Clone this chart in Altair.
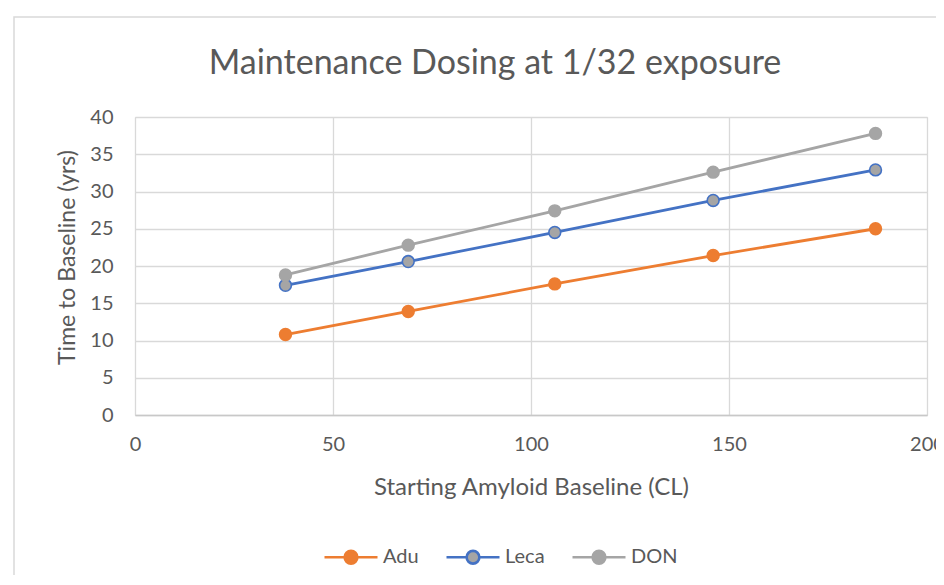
import altair as alt
import pandas as pd

series = ["Adu", "Leca", "DON"]
baseline_cl = [38, 69, 106, 146, 187]
adu = [10.8, 13.9, 17.6, 21.4, 25.0]
leca = [17.4, 20.6, 24.5, 28.8, 32.9]
don = [18.8, 22.8, 27.4, 32.6, 37.8]
x_ticks = [0, 50, 100, 150, 200]
y_ticks = [0, 5, 10, 15, 20, 25, 30, 35, 40]

line_colors = ["#ED7D31", "#4472C4", "#A5A5A5"]
marker_fills = ["#ED7D31", "#A5A5A5", "#A5A5A5"]

rows = []
for name, vals in zip(series, [adu, leca, don]):
    for xv, yv in zip(baseline_cl, vals):
        rows.append({"Series": name, "CL": xv, "Years": yv})
df = pd.DataFrame(rows)

FONT = "Lato"
TXT = "#595959"
GRID = "#D9D9D9"

x_enc = alt.X("CL:Q",
              scale=alt.Scale(domain=[0, 200], nice=False),
              axis=alt.Axis(values=x_ticks, title="Starting Amyloid Baseline (CL)",
                            grid=True, gridColor=GRID, gridWidth=1.3, ticks=False,
                            domain=True, domainColor="#C8C8C8", domainWidth=1.6,
                            labelPadding=19, labelFontSize=20, labelColor=TXT, labelFont=FONT,
                            labelFlush=False, labelOverlap=False,
                            titleFontSize=24, titleColor=TXT, titleFont=FONT, titleFontWeight="normal",
                            titleY=72, titleBaseline="middle"))
y_enc = alt.Y("Years:Q",
              scale=alt.Scale(domain=[0, 40], nice=False),
              axis=alt.Axis(values=y_ticks, title="Time to Baseline (yrs)",
                            grid=True, gridColor=GRID, gridWidth=1.3, ticks=False, domain=False,
                            labelPadding=22, labelFontSize=20, labelColor=TXT, labelFont=FONT,
                            labelFlush=False, labelOverlap=False,
                            titleFontSize=23, titleColor=TXT, titleFont=FONT, titleFontWeight="normal",
                            titleX=-68, titleY=140, titleBaseline="middle"))

stroke_scale = alt.Scale(domain=series, range=line_colors)
fill_scale = alt.Scale(domain=series, range=marker_fills)

legend_symbol = ("M-1,0L-0.24,0M0.24,0L1,0"
                 "M0.24,0A0.24,0.24,0,1,1,-0.24,0A0.24,0.24,0,1,1,0.24,0Z")

leg = alt.Legend(title=None, orient="none", direction="horizontal",
                 legendX=188, legendY=412,
                 symbolType=legend_symbol, symbolSize=2809, symbolStrokeWidth=2.6,
                 labelFontSize=20, labelColor=TXT, labelFont=FONT, labelOffset=4,
                 columnPadding=22, padding=0)

frame = alt.Chart(alt.Data(values=[{"k": 1}])).mark_rect(
    fillOpacity=0, stroke="#D9D9D9", strokeWidth=1.5
).encode(x=alt.value(-121), y=alt.value(-100), x2=alt.value(900), y2=alt.value(600))

lines = alt.Chart(df).mark_line(strokeWidth=2.8).encode(
    x=x_enc, y=y_enc,
    stroke=alt.Stroke("Series:N", scale=stroke_scale, legend=leg),
    detail="Series:N",
)

points = alt.Chart(df).mark_point(filled=True, size=140, strokeWidth=1.6, opacity=1).encode(
    x=x_enc, y=y_enc,
    fill=alt.Fill("Series:N", scale=fill_scale, legend=leg),
    stroke=alt.Stroke("Series:N", scale=stroke_scale, legend=leg),
)

chart = alt.layer(frame, lines, points).properties(
    width=792, height=298,
    title=alt.Title("Maintenance Dosing at 1/32 exposure", fontSize=34, font=FONT,
                    fontWeight="normal", color=TXT, anchor="middle", frame="group",
                    dx=-36, baseline="alphabetic", offset=-92),
    autosize=alt.AutoSizeParams(type="none"),
    padding={"left": 127, "top": 109, "right": 9, "bottom": 160},
).configure_view(stroke=None).configure(background="white")

chart.save("out.html", embed_options={"renderer": "svg", "actions": False})
